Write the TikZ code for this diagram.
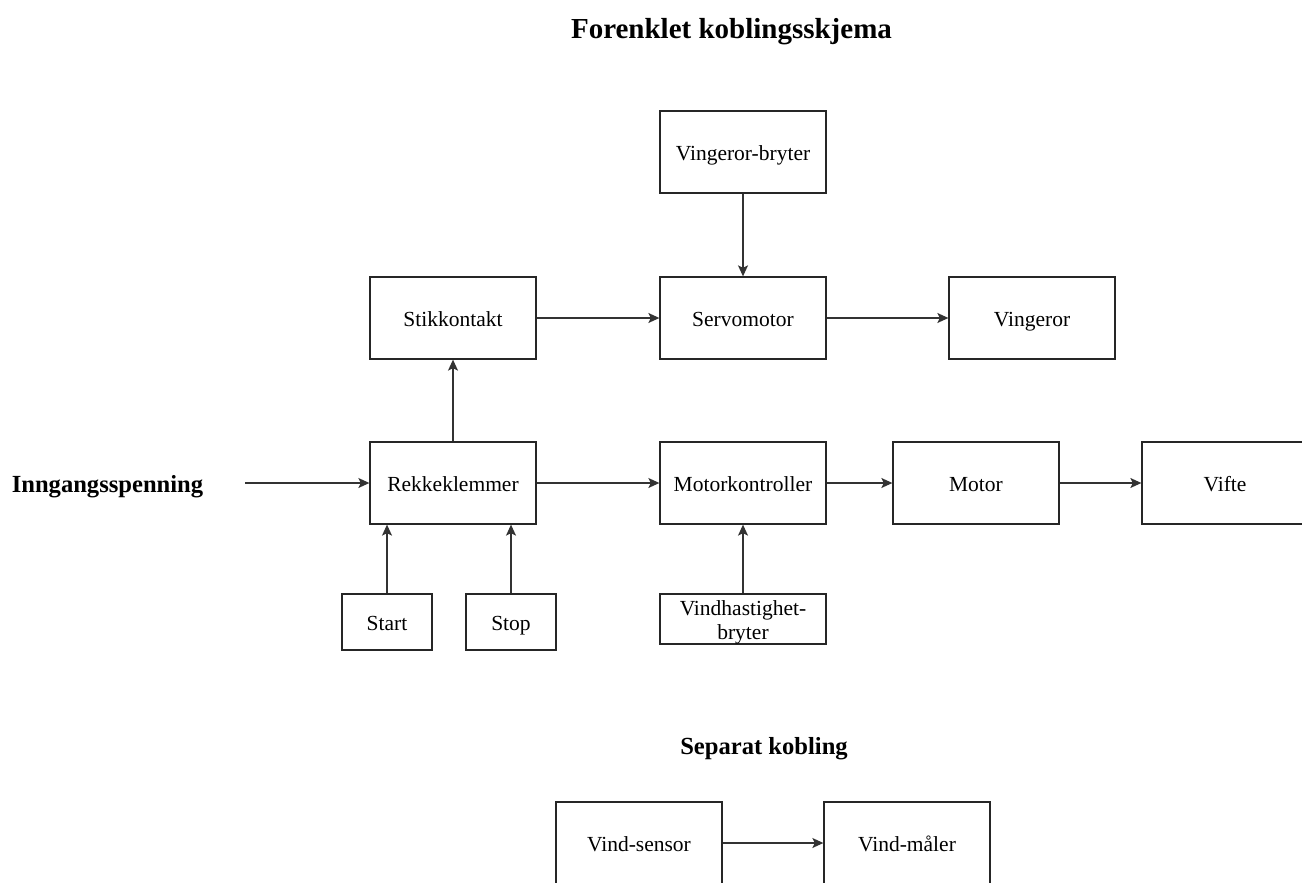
\documentclass[tikz,border=0pt]{standalone}
\usepackage{fontspec}
\setmainfont{Liberation Serif}
\usetikzlibrary{arrows.meta}

\begin{document}
\begin{tikzpicture}[x=1pt,y=-1pt,
  tekst/.style={inner sep=0pt, font=\fontsize{21.5}{24}\selectfont},
  blokk/.style={draw=black!85, line width=1.3pt, rectangle, inner sep=0pt,
    minimum width=166pt, minimum height=82pt,
    text height=16pt, text depth=0pt,
    font=\fontsize{21.5}{24}\selectfont},
  liten/.style={blokk, minimum width=90pt, minimum height=56pt},
  overskrift/.style={anchor=base, inner sep=0pt, font=\bfseries\fontsize{29}{32}\selectfont},
  etikett/.style={anchor=base, inner sep=0pt, font=\bfseries\fontsize{24.6}{28}\selectfont},
  pil/.style={draw=black!80, line width=1.3pt, -{Stealth[length=11pt,width=10pt,inset=2.5pt]}}
]
\useasboundingbox[fill=white] (0,0) rectangle (1302,883);

% Titles
\node[overskrift] (tittel) at (731.5,39) {Forenklet koblingsskjema};
\node[etikett] (separat) at (764,754) {Separat kobling};
\node[etikett] (inngang) at (107.5,492) {Inngangsspenning};
\coordinate (innstart) at (245,483);

% Upper branch
\node[blokk] (vbryter) at (743,152) {Vingeror-bryter};
\node[blokk] (stikk) at (453,318) {Stikkontakt};
\node[blokk] (servo) at (743,318) {Servomotor};
\node[blokk] (vingeror) at (1032,318) {Vingeror};

% Main line
\node[blokk] (rekke) at (453,483) {Rekkeklemmer};
\node[blokk] (motork) at (743,483) {Motorkontroller};
\node[blokk] (motor) at (976,483) {Motor};
\node[blokk] (vifte) at (1225,483) {Vifte};

% Inputs below
\node[liten] (start) at (387,622) {Start};
\node[liten] (stop) at (511,622) {Stop};
\node[blokk, minimum height=50pt] (vhast) at (743,619) {};
\node[tekst, anchor=base] (vhastA) at (743,615) {Vindhastighet-};
\node[tekst, anchor=base] (vhastB) at (743,639) {bryter};

% Separate circuit
\node[blokk] (vsensor) at (639,843) {Vind-sensor};
\node[blokk] (vmaler) at (907,843) {Vind-måler};

% Connections
\draw[pil] (innstart) -- (rekke.west);
\draw[pil] (rekke) -- (stikk);
\draw[pil] (stikk) -- (servo);
\draw[pil] (servo) -- (vingeror);
\draw[pil] (vbryter) -- (servo);
\draw[pil] (rekke) -- (motork);
\draw[pil] (motork.east) -- (motor.west);
\draw[pil] (motor) -- (vifte);
\draw[pil] (start) -- (start |- rekke.south);
\draw[pil] (stop) -- (stop |- rekke.south);
\draw[pil] (vhast.north) -- (motork.south);
\draw[pil] (vsensor) -- (vmaler);
\end{tikzpicture}
\end{document}
